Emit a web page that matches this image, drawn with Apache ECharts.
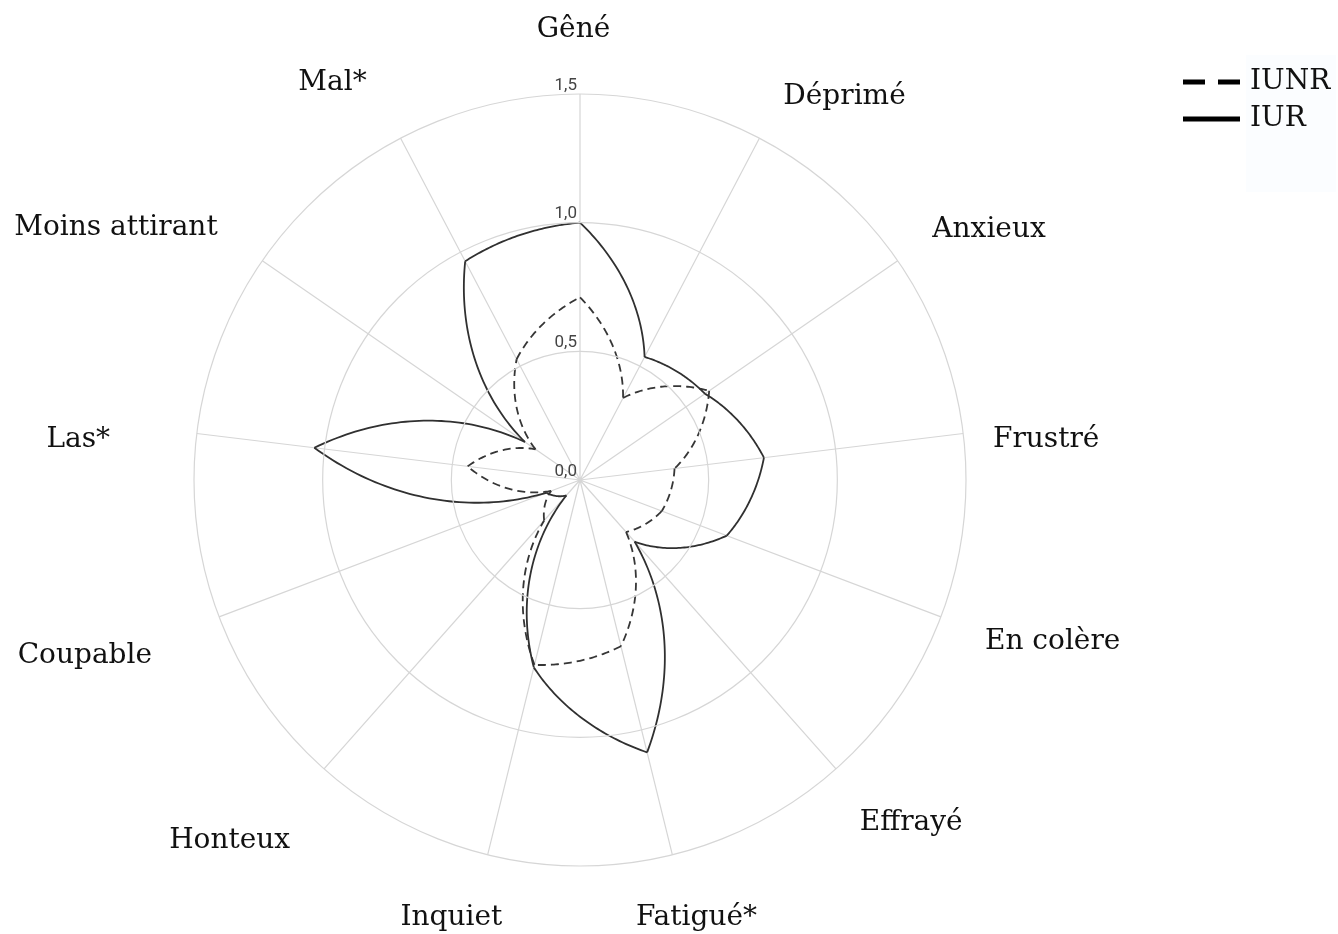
<!DOCTYPE html>
<html><head><meta charset="utf-8">
<script src="https://cdn.jsdelivr.net/npm/echarts@6/dist/echarts.min.js"></script>
<style>html,body{margin:0;padding:0;background:#fff}#c{width:1338px;height:934px}</style>
</head><body><div id="c"></div>
<script>
// ---- data ----
const categories = ['Gêné','Déprimé','Anxieux','Frustré','En colère','Effrayé','Fatigué*','Inquiet','Honteux','Coupable','Las*','Moins attirant','Mal*'];
const iur  = [1.00, 0.54, 0.59, 0.72, 0.61, 0.32, 1.09, 0.75, 0.08, 0.14, 1.04, 0.26, 0.96];
const iunr = [0.71, 0.36, 0.61, 0.37, 0.34, 0.27, 0.665, 0.74, 0.21, 0.12, 0.44, 0.21, 0.53];
const radiusTicks = [0, 0.5, 1.0, 1.5];
const seriesNames = ['IUNR', 'IUR'];

// ---- layout (label nudges, styles) ----
const labelPad = [
  [0,13,20,0],[0,0,1,10],[0,0,0,10],[20,0,0,0],[0,0,0,16],[17,0,0,4],[20,0,0,34],
  [20,58,0,0],[35,14,0,0],[14,39,0,0],[20,57,0,0],[0,20,2,0],[0,20,15,0]
];
const FONT = 'DejaVu Serif';
const FS = 28;
const N = categories.length;
const rich = {};
labelPad.forEach((p, i) => { rich['p' + i] = { padding: p, fontFamily: FONT, fontSize: FS, color: '#111' }; });

function segData(vals) { return vals.map((v, i) => [i, v, vals[(i + 1) % N]]); }
function makeRender(style) {
  return function (params, api) {
    const a0 = api.value(0), r0 = api.value(1), r1 = api.value(2);
    const pts = [];
    const steps = 48;
    for (let s = 0; s <= steps; s++) {
      const t = s / steps;
      pts.push(api.coord([r0 + (r1 - r0) * t, a0 + t]));
    }
    return { type: 'polyline', shape: { points: pts }, style: Object.assign({ fill: null }, style) };
  };
}
const chart = echarts.init(document.getElementById('c'), null, { renderer: 'canvas' });
chart.setOption({
  animation: false,
  backgroundColor: '#fff',
  graphic: [{ type: 'rect', left: 1246, top: 55, shape: { width: 90, height: 137 }, style: { fill: '#fbfdff' }, z: -10, silent: true }],
  legend: {
    orient: 'vertical', left: 1178, top: 63, itemWidth: 57, itemHeight: 5, itemGap: 9,
    formatter: '{t|{name}}',
    textStyle: { fontFamily: FONT, fontSize: FS, color: '#111', rich: { t: { fontFamily: FONT, fontSize: FS, color: '#111', padding: [0, 0, 0, 5] } } },
    data: [
      { name: seriesNames[0], icon: 'path://M0 0H22V5H0Z M35 0H57V5H35Z', itemStyle: { color: '#000' } },
      { name: seriesNames[1], icon: 'path://M0 0H57V5H0Z', itemStyle: { color: '#000' } }
    ]
  },
  polar: { center: [580, 480], radius: 386 },
  angleAxis: {
    type: 'value', min: 0, max: N, interval: 1, startAngle: 90, clockwise: true,
    axisLine: { show: false }, axisTick: { show: false },
    splitLine: { show: true, lineStyle: { color: '#d6d6d6', width: 1.2 } },
    axisLabel: {
      margin: 30,
      formatter: function (v) { const i = Math.round(v); return i < N ? '{p' + i + '|' + categories[i] + '}' : ''; },
      rich: rich
    }
  },
  radiusAxis: {
    type: 'value', min: radiusTicks[0], max: radiusTicks[radiusTicks.length - 1], interval: radiusTicks[1] - radiusTicks[0],
    axisLine: { show: false }, axisTick: { show: false },
    splitLine: { show: true, lineStyle: { color: '#d6d6d6', width: 1.2 } },
    axisLabel: { formatter: v => v.toFixed(1).replace('.', ','), fontFamily: 'Roboto', fontSize: 17, color: '#444', align: 'right', verticalAlign: 'bottom', margin: 3 },
    z: 10
  },
  series: [
    { type: 'custom', name: 'IUNR', coordinateSystem: 'polar', itemStyle: { color: '#000' },
      dimensions: ['angle', 'r0', 'r1'], encode: { angle: 0, radius: 1 },
      renderItem: makeRender({ stroke: '#363636', lineWidth: 1.8, lineDash: [8, 5] }), data: segData(iunr), z: 5 },
    { type: 'custom', name: 'IUR', coordinateSystem: 'polar', itemStyle: { color: '#000' },
      dimensions: ['angle', 'r0', 'r1'], encode: { angle: 0, radius: 1 },
      renderItem: makeRender({ stroke: '#303030', lineWidth: 1.8 }), data: segData(iur), z: 6 }
  ]
});
</script></body></html>
